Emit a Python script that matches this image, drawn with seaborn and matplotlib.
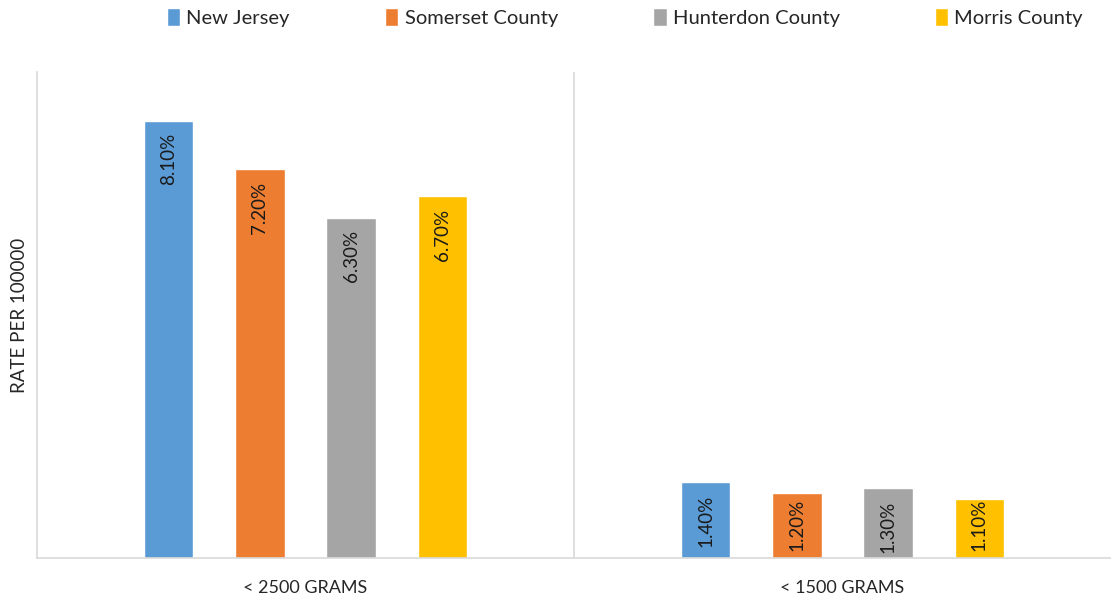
import seaborn as sns
import matplotlib.pyplot as plt
import pandas as pd

# data
groups = ["< 2500 GRAMS", "< 1500 GRAMS"]
areas = ["New Jersey", "Somerset County", "Hunterdon County", "Morris County"]
new_jersey = [8.1, 1.4]
somerset = [7.2, 1.2]
hunterdon = [6.3, 1.3]
morris = [6.7, 1.1]
colors = ["#5b9bd5", "#ed7d31", "#a5a5a5", "#ffc000"]

rows = []
for area, vals in zip(areas, [new_jersey, somerset, hunterdon, morris]):
    for g, v in zip(groups, vals):
        rows.append({"group": g, "area": area, "rate": v})
df = pd.DataFrame(rows)

sns.set_theme(style="white")
plt.rcParams["font.family"] = ["Lato", "DejaVu Sans"]

fig = plt.figure(figsize=(11.11, 6.02), dpi=100)
ax = fig.add_axes([37 / 1111, 1 - 558 / 602, 1 - 37 / 1111, (558 - 72) / 602])

sns.barplot(data=df, x="group", y="rate", hue="area", hue_order=areas,
            palette=colors, width=0.68, gap=0.46, saturation=1, ax=ax)

ax.set_xlim(-0.5, 1.5)
ax.set_ylim(0, 9)
ax.set_yticks([])
ax.set_xlabel("")
ax.set_ylabel("RATE PER 100000", fontsize=13.5, color="#262626")
ax.yaxis.set_label_coords(-0.008, 0.5)
ax.tick_params(axis="x", length=0, pad=16, labelsize=13, labelcolor="#262626")

for s in ["top", "right"]:
    ax.spines[s].set_visible(False)
for s in ["left", "bottom"]:
    ax.spines[s].set_color("#d9d9d9")
    ax.spines[s].set_linewidth(1.2)
ax.axvline(0.5, color="#d9d9d9", lw=1.2)

# value labels inside bars, rotated; short bars get the label pushed up
# so it sits just above the base (like Excel does)
for cont in ax.containers:
    for b in cont:
        h = b.get_height()
        x = b.get_x() + b.get_width() / 2
        if h > 1.25:
            ax.annotate("%.2f%%" % h, (x, h), xytext=(0, -9), textcoords="offset points",
                        rotation=90, ha="center", va="top", fontsize=13.5, color="#1a1a1a")
        else:
            ax.annotate("%.2f%%" % h, (x, 0), xytext=(0, 5), textcoords="offset points",
                        rotation=90, ha="center", va="bottom", fontsize=13.5, color="#1a1a1a")

handles, labs = ax.get_legend_handles_labels()
ax.legend_.remove()
fig.legend(handles, labs, loc="center", bbox_to_anchor=(0.5626, 0.971), ncol=4,
           frameon=False, fontsize=14.5, handlelength=0.65, handleheight=1.0,
           handletextpad=0.3, columnspacing=4.75)

fig.savefig("out.png", dpi=100)
